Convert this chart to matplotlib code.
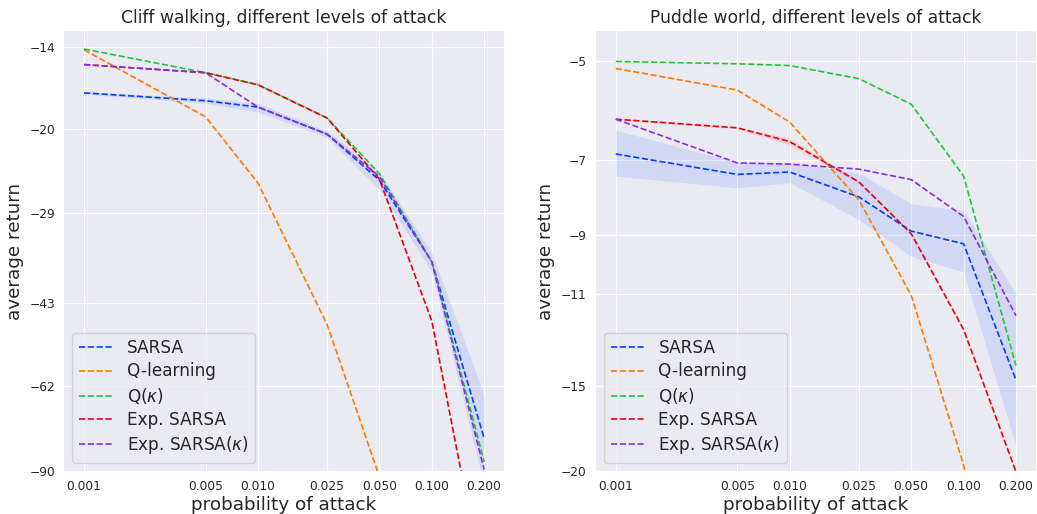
import numpy as np
import matplotlib
matplotlib.use("Agg")
import matplotlib.pyplot as plt
from matplotlib.ticker import NullLocator, NullFormatter

plt.style.use("seaborn-v0_8-darkgrid")
plt.rcParams["font.family"] = ["DejaVu Sans"]
plt.rcParams["text.color"] = ".15"
plt.rcParams["axes.labelcolor"] = ".15"
plt.rcParams["xtick.color"] = ".15"
plt.rcParams["ytick.color"] = ".15"
plt.rcParams["xtick.major.pad"] = 6.5
plt.rcParams["ytick.major.pad"] = 6.5

attack = [0.001, 0.005, 0.01, 0.025, 0.05, 0.1, 0.2]
attack_labels = ["0.001", "0.005", "0.010", "0.025", "0.050", "0.100", "0.200"]

labels = ["SARSA", "Q-learning", r"Q($\kappa$)", "Exp. SARSA", r"Exp. SARSA($\kappa$)"]
colors = ["#023eff", "#ff7c00", "#1ac938", "#e8000b", "#8b2be2"]

# cliff walking
cliff_sarsa = [-17.1, -17.7, -18.2, -20.5, -25.1, -35.9, -78.0]
cliff_sarsa_lo = [-17.2, -17.9, -18.6, -20.8, -26.2, -37.5, -96.0]
cliff_sarsa_hi = [-17.0, -17.5, -17.9, -20.2, -24.2, -34.5, -64.4]
cliff_qlearn = [-14.15, -19.0, -25.4, -47.3, -92.4, -200.0, -400.0]
cliff_qkappa = [-14.1, -15.65, -16.5, -19.1, -24.4, -35.9, -86.5]
cliff_expsarsa = [-15.1, -15.65, -16.5, -19.1, -25.0, -46.6, -152.0]
cliff_expsarsa_k = [-15.1, -15.65, -18.2, -20.5, -24.7, -35.9, -89.5]
cliff_yticks = [-14, -20, -29, -43, -62, -90]

# puddle world
puddle_sarsa = [-6.85, -7.34, -7.28, -7.92, -8.89, -9.28, -14.7]
puddle_sarsa_lo = [-7.38, -7.68, -7.55, -8.55, -9.69, -10.2, -18.4]
puddle_sarsa_hi = [-6.32, -7.05, -7.05, -7.31, -8.1, -8.29, -10.99]
puddle_qlearn = [-5.13, -5.52, -6.15, -8.0, -11.05, -19.6, -45.0]
puddle_qkappa = [-5.01, -5.05, -5.08, -5.31, -5.79, -7.38, -14.0]
puddle_expsarsa = [-6.09, -6.27, -6.57, -7.53, -8.97, -12.4, -20.05]
puddle_expsarsa_lo = [-6.11, -6.29, -6.65, -7.56, -9.0, -12.45, -20.1]
puddle_expsarsa_hi = [-6.07, -6.25, -6.49, -7.5, -8.94, -12.35, -20.0]
puddle_expsarsa_k = [-6.09, -7.06, -7.09, -7.21, -7.47, -8.46, -11.83]
puddle_yticks = [-5, -7, -9, -11, -15, -20]


def fwd(y):
    y = np.asarray(y, dtype=float)
    with np.errstate(divide="ignore", invalid="ignore"):
        return -np.log(np.maximum(-y, 1e-12))


def inv(t):
    return -np.exp(-np.asarray(t, dtype=float))


def draw(ax, title, series, bands, yticks, ylim):
    for (lo, hi), c in bands:
        ax.fill_between(attack, lo, hi, color=c, alpha=0.1, lw=0)
    for vals, lab, c in zip(series, labels, colors):
        ax.plot(attack, vals, "--", color=c, lw=1.2, label=lab)
    ax.set_xscale("log")
    ax.set_yscale("function", functions=(fwd, inv))
    ax.set_xticks(attack)
    ax.set_xticklabels(attack_labels, fontsize=8.8)
    ax.xaxis.set_minor_locator(NullLocator())
    ax.xaxis.set_minor_formatter(NullFormatter())
    ax.set_ylim(*ylim)
    ax.set_yticks(yticks)
    ax.set_yticklabels([f"\u2212{abs(v)}" for v in yticks], fontsize=8.8)
    ax.yaxis.set_minor_locator(NullLocator())
    ax.set_title(title, fontsize=12.3)
    ax.set_xlabel("probability of attack", fontsize=13.2, labelpad=2)
    ax.set_ylabel("average return", fontsize=13.2)
    ax.legend(loc="lower left", fontsize=12.2, frameon=True, labelspacing=0.3,
              facecolor="#EAEAF2", edgecolor="0.8", framealpha=0.8)


fig, (ax1, ax2) = plt.subplots(1, 2, figsize=(10.37, 5.14), dpi=100)
fig.subplots_adjust(left=0.0617, right=0.999, bottom=0.0837, top=0.9397, wspace=0.208)

draw(ax1, "Cliff walking, different levels of attack",
     [cliff_sarsa, cliff_qlearn, cliff_qkappa, cliff_expsarsa, cliff_expsarsa_k],
     [((cliff_sarsa_lo, cliff_sarsa_hi), colors[0])],
     cliff_yticks, (-90, -13.03))

draw(ax2, "Puddle world, different levels of attack",
     [puddle_sarsa, puddle_qlearn, puddle_qkappa, puddle_expsarsa, puddle_expsarsa_k],
     [((puddle_sarsa_lo, puddle_sarsa_hi), colors[0]),
      ((puddle_expsarsa_lo, puddle_expsarsa_hi), colors[3])],
     puddle_yticks, (-20, -4.52))

fig.savefig("out.png", dpi=100)
